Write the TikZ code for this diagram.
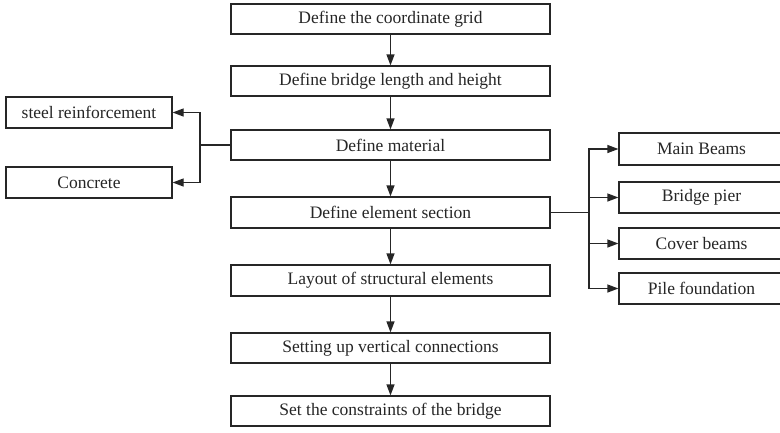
\documentclass[tikz,border=0pt]{standalone}
\usepackage{fontspec}
\setmainfont{Liberation Serif}
\usetikzlibrary{arrows.meta}
\begin{document}
\begin{tikzpicture}[x=1pt,y=-1pt,
  box/.style={draw=black!85,line width=1.2pt,inner sep=0pt,font=\fontsize{17.5}{20}\selectfont,text=black!85},
  conn/.style={draw=black!85,line width=1.2pt},
  arr/.style={conn,-{Triangle[length=11pt,width=8pt]}}]
\useasboundingbox (0,0) rectangle (780,432);
\newcommand\bx[6]{\node[box,minimum width={#4-#2},minimum height={#5-#3}] (#1) at ({(#2+#4)/2},{(#3+#5)/2}) {#6};}
\bx{a}{231}{4}{550}{34}{Define the coordinate grid}
\bx{b}{231}{66}{550}{96}{Define bridge length and height}
\bx{c}{231}{130}{550}{160}{Define material}
\bx{d}{231}{197}{550}{228}{Define element section}
\bx{e}{231}{265}{550}{296}{Layout of structural elements}
\bx{f}{231}{333}{550}{363}{Setting up vertical connections}
\bx{g}{231}{396}{550}{426}{Set the constraints of the bridge}
\bx{s}{6}{97}{172}{128}{steel reinforcement}
\bx{k}{6}{167}{172}{198}{Concrete}
\bx{m1}{619}{133}{784}{165}{Main Beams}
\bx{m2}{619}{182}{784}{213}{Bridge pier}
\bx{m3}{619}{228}{784}{259}{Cover beams}
\bx{m4}{619}{273}{784}{304}{Pile foundation}
\foreach \u/\v in {a/b,b/c,c/d,d/e,e/f,f/g} \draw[arr] (\u) -- (\v);
\coordinate (lt) at (c.west -| 200,0);
\draw[conn] (c.west) -- (lt);
\draw[arr] (lt) |- (s.east);
\draw[arr] (lt) |- (k.east);
\coordinate (rt) at (d.east -| 589,0);
\draw[conn] (d.east) -- (rt);
\foreach \n in {m1,m2,m3,m4} \draw[arr] (rt) |- (\n.west);
\end{tikzpicture}
\end{document}
